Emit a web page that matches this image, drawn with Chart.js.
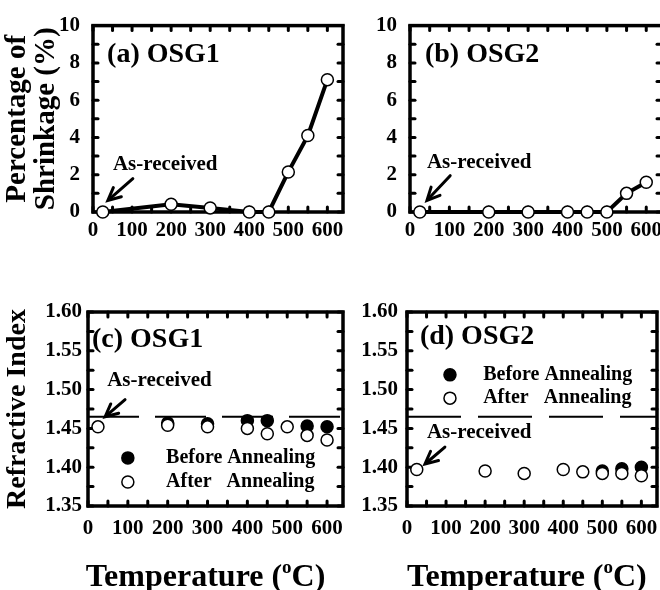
<!DOCTYPE html>
<html><head><meta charset="utf-8">
<script src="https://cdn.jsdelivr.net/npm/chart.js@4.4.0/dist/chart.umd.min.js"></script>
<style>
html,body{margin:0;padding:0;background:#fff;width:660px;height:590px;overflow:hidden;}
#wrap{position:relative;width:660px;height:590px;overflow:hidden;background:#fff;}
canvas{position:absolute;left:0;top:0;}
</style></head><body>
<div id="wrap">
<canvas id="pa" width="680" height="610"></canvas>
<canvas id="pb" width="680" height="610"></canvas>
<canvas id="pc" width="680" height="610"></canvas>
<canvas id="pd" width="680" height="610"></canvas>
</div>
<script>
// ---- data ----
const temps = [25, 200, 300, 400, 450, 500, 550, 600];
const shrinkOSG1 = [0, 0.42, 0.22, 0, 0, 2.15, 4.1, 7.1];
const shrinkOSG2 = [0, 0, 0, 0, 0, 0, 1.0, 1.6];
const osg1BeforeTemps = [200, 300, 400, 450, 550, 600];
const osg1Before = [1.457, 1.456, 1.460, 1.460, 1.453, 1.452];
const osg1After = [1.452, 1.454, 1.452, 1.450, 1.443, 1.452, 1.441, 1.435];
const osg2BeforeTemps = [500, 550, 600];
const osg2Before = [1.395, 1.398, 1.400];
const osg2After = [1.397, 1.395, 1.392, 1.397, 1.394, 1.392, 1.392, 1.389];
const asReceivedRI = 1.465;
const xTickLabels = ['0', '100', '200', '300', '400', '500', '600'];
const shrinkTickLabels = ['0', '2', '4', '6', '8', '10'];
const riTickLabels = ['1.35', '1.40', '1.45', '1.50', '1.55', '1.60'];

const FAM = '"Liberation Serif", "Times New Roman", serif';
const CW = 680, CH = 610;

function pts(xs, ys) { return xs.map((x, i) => ({ x: x, y: ys[i] })); }

function drawArrow(ctx, x1, y1, x2, y2) {
  ctx.save();
  ctx.strokeStyle = '#000'; ctx.fillStyle = '#000';
  ctx.lineWidth = 3; ctx.lineCap = 'round';
  const ang = Math.atan2(y2 - y1, x2 - x1);
  ctx.beginPath(); ctx.moveTo(x1, y1); ctx.lineTo(x2 - 4 * Math.cos(ang), y2 - 4 * Math.sin(ang)); ctx.stroke();
  const L = 14, a = 0.45;
  ctx.lineWidth = 3;
  ctx.beginPath();
  ctx.moveTo(x2 - L * Math.cos(ang - a), y2 - L * Math.sin(ang - a));
  ctx.lineTo(x2, y2);
  ctx.lineTo(x2 - L * Math.cos(ang + a), y2 - L * Math.sin(ang + a));
  ctx.stroke();
  ctx.restore();
}

function drawTempTitle(ctx, cx, cy) {
  ctx.save();
  ctx.fillStyle = '#000';
  ctx.textBaseline = 'alphabetic';
  ctx.textAlign = 'left';
  const big = 'bold 32px ' + FAM, small = 'bold 19px ' + FAM;
  ctx.font = big; const w1 = ctx.measureText('Temperature (').width; const w3 = ctx.measureText('C)').width;
  ctx.font = small; const w2 = ctx.measureText('o').width;
  const tot = w1 + w2 + w3;
  let x = cx - tot / 2; const base = cy + 8;
  ctx.font = big; ctx.fillText('Temperature (', x, base); x += w1;
  ctx.font = small; ctx.fillText('o', x, base - 13); x += w2;
  ctx.font = big; ctx.fillText('C)', x, base);
  ctx.restore();
}

function makePanel(id, p) {
  const framePlugin = {
    id: 'frame' + id,
    beforeDatasetsDraw(chart) {
      const { ctx, chartArea: { left, right, top, bottom }, scales: { x, y } } = chart;
      ctx.save();
      ctx.strokeStyle = '#000';
      ctx.lineWidth = 3.5;
      ctx.strokeRect(left, top, right - left, bottom - top);
      ctx.lineWidth = 3; ctx.lineCap = 'round';
      const tl = 5;
      x.ticks.forEach(t => {
        const px = x.getPixelForValue(t.value);
        ctx.beginPath(); ctx.moveTo(px, top); ctx.lineTo(px, top + tl); ctx.stroke();
        ctx.beginPath(); ctx.moveTo(px, bottom); ctx.lineTo(px, bottom - tl); ctx.stroke();
      });
      y.ticks.forEach(t => {
        const py = y.getPixelForValue(t.value);
        ctx.beginPath(); ctx.moveTo(left, py); ctx.lineTo(left + tl, py); ctx.stroke();
        ctx.beginPath(); ctx.moveTo(right, py); ctx.lineTo(right - tl, py); ctx.stroke();
      });
      ctx.restore();
    },
    afterDraw(chart) {
      const { ctx, scales: { x, y } } = chart;
      const X = v => x.getPixelForValue(v), Y = v => y.getPixelForValue(v);
      ctx.save();
      ctx.fillStyle = '#000';
      ctx.textAlign = 'left'; ctx.textBaseline = 'middle';
      ctx.font = 'bold 28px ' + FAM;
      ctx.fillText(p.title, X(p.titlePos[0]), Y(p.titlePos[1]));
      ctx.font = 'bold 21px ' + FAM;
      ctx.fillText('As-received', X(p.textPos[0]), Y(p.textPos[1]));
      drawArrow(ctx, X(p.arrow[0]), Y(p.arrow[1]), X(p.arrow[2]), Y(p.arrow[3]));
      if (p.legend) {
        const lx = X(p.legend.cx), ly1 = Y(p.legend.y1), ly2 = Y(p.legend.y2), tx = X(p.legend.tx);
        ctx.lineWidth = 1.5; ctx.strokeStyle = '#000';
        ctx.beginPath(); ctx.arc(lx, ly1, 6, 0, Math.PI * 2); ctx.fillStyle = '#000'; ctx.fill(); ctx.stroke();
        ctx.beginPath(); ctx.arc(lx, ly2, 6, 0, Math.PI * 2); ctx.fillStyle = '#fff'; ctx.fill(); ctx.stroke();
        ctx.fillStyle = '#000';
        ctx.font = 'bold 20px ' + FAM;
        ctx.fillText('Before Annealing', tx, ly1);
        ctx.fillText('After   Annealing', tx, ly2);
      }
      if (p.xTitle) {
        drawTempTitle(ctx, X(p.xTitle[0]), chart.chartArea.bottom + p.xTitle[1]);
      }
      ctx.restore();
    }
  };

  const yTitle = p.yTitle ? {
    display: true, text: p.yTitle, color: '#000',
    font: { family: FAM, size: p.yTitleSize, weight: 'bold', lineHeight: 1.0 },
    padding: { top: p.yTitlePad, bottom: 0 }
  } : { display: false };

  new Chart(document.getElementById(id), {
    type: 'scatter',
    data: { datasets: p.datasets },
    options: {
      responsive: false, animation: false, devicePixelRatio: 1,
      layout: { padding: { left: 0, top: p.area.top, right: CW - p.area.right, bottom: CH - p.area.bottom - 80 } },
      plugins: { legend: { display: false }, tooltip: { enabled: false } },
      scales: {
        x: {
          type: 'linear', min: 0, max: 640,
          grid: { display: false, drawTicks: false }, border: { display: false },
          ticks: {
            stepSize: 50, includeBounds: false, autoSkip: false, maxRotation: 0, color: '#000', padding: p.xPad,
            font: { family: FAM, size: 21, weight: 'bold' },
            callback: v => xTickLabels.includes(String(Math.round(v))) && Math.abs(v - Math.round(v)) < 1e-6 ? String(Math.round(v)) : ''
          },
          afterFit: s => { s.height = 80; }
        },
        y: {
          type: 'linear', min: p.ymin, max: p.ymax,
          grid: { display: false, drawTicks: false }, border: { display: false },
          title: yTitle,
          ticks: {
            stepSize: p.ystep, autoSkip: false, color: '#000', padding: p.yPad,
            font: { family: FAM, size: 21, weight: 'bold' },
            callback: p.yLabel
          },
          afterFit: s => { s.width = p.area.left; }
        }
      }
    },
    plugins: [framePlugin]
  });
}

const lineDs = (data) => ({
  data: data, showLine: true, borderColor: '#000', borderWidth: 4,
  pointRadius: 6, pointBorderWidth: 1.5, pointBackgroundColor: '#fff', pointBorderColor: '#000',
  clip: false
});
const openDs = (data) => ({
  data: data, showLine: false, pointRadius: 6, pointBorderWidth: 1.5,
  pointBackgroundColor: '#fff', pointBorderColor: '#000', clip: false, order: 0
});
const filledDs = (data) => ({
  data: data, showLine: false, pointRadius: 6, pointBorderWidth: 1.5,
  pointBackgroundColor: '#000', pointBorderColor: '#000', clip: false, order: 1
});
const refDs = (dash) => ({
  data: [{ x: 0, y: asReceivedRI }, { x: 640, y: asReceivedRI }], showLine: true,
  borderColor: '#000', borderWidth: 1.8, borderDash: dash, pointRadius: 0, clip: false, order: 2
});

const shrinkLabel = v => shrinkTickLabels.includes(String(v)) ? String(v) : '';
const riLabel = v => { const s = v.toFixed(2); return (riTickLabels.includes(s) && Math.abs(v - parseFloat(s)) < 1e-6) ? s : ''; };

makePanel('pa', {
  area: { left: 93, top: 17, right: 343, bottom: 212 },
  ymin: 0, ymax: 10, ystep: 1, yLabel: shrinkLabel, yPad: 13, xPad: 6,
  yTitle: ['Percentage of', 'Shrinkage (%)'], yTitleSize: 29, yTitlePad: 3.5,
  datasets: [lineDs(pts(temps, shrinkOSG1))],
  title: '(a) OSG1', titlePos: [36, 8.46], textPos: [51, 2.56], arrow: [102, 1.79, 38, 0.62]
});
makePanel('pb', {
  area: { left: 410, top: 17, right: 662, bottom: 212 },
  ymin: 0, ymax: 10, ystep: 1, yLabel: shrinkLabel, yPad: 13, xPad: 6,
  datasets: [lineDs(pts(temps, shrinkOSG2))],
  title: '(b) OSG2', titlePos: [38, 8.46], textPos: [43, 2.67], arrow: [102, 1.95, 43, 0.62]
});
makePanel('pc', {
  area: { left: 88, top: 312, right: 343, bottom: 506 },
  ymin: 1.35, ymax: 1.60, ystep: 0.025, yLabel: riLabel, yPad: 6, xPad: 10,
  yTitle: 'Refractive Index', yTitleSize: 28, yTitlePad: 4,
  datasets: [openDs(pts(temps, osg1After)), filledDs(pts(osg1BeforeTemps, osg1Before)), refDs([51, 16])],
  title: '(c) OSG1', titlePos: [10, 1.564], textPos: [48, 1.512], arrow: [93, 1.487, 43, 1.465],
  legend: { cx: 100, y1: 1.412, y2: 1.381, tx: 196 },
  xTitle: [295, 72]
});
makePanel('pd', {
  area: { left: 407, top: 312, right: 657, bottom: 506 },
  ymin: 1.35, ymax: 1.60, ystep: 0.025, yLabel: riLabel, yPad: 9, xPad: 10,
  datasets: [openDs(pts(temps, osg2After)), filledDs(pts(osg2BeforeTemps, osg2Before)), refDs([54, 17])],
  title: '(d) OSG2', titlePos: [33, 1.568], textPos: [51, 1.444], arrow: [97, 1.426, 46, 1.404],
  legend: { cx: 110, y1: 1.519, y2: 1.489, tx: 195 },
  xTitle: [307, 72]
});
</script>
</body></html>
